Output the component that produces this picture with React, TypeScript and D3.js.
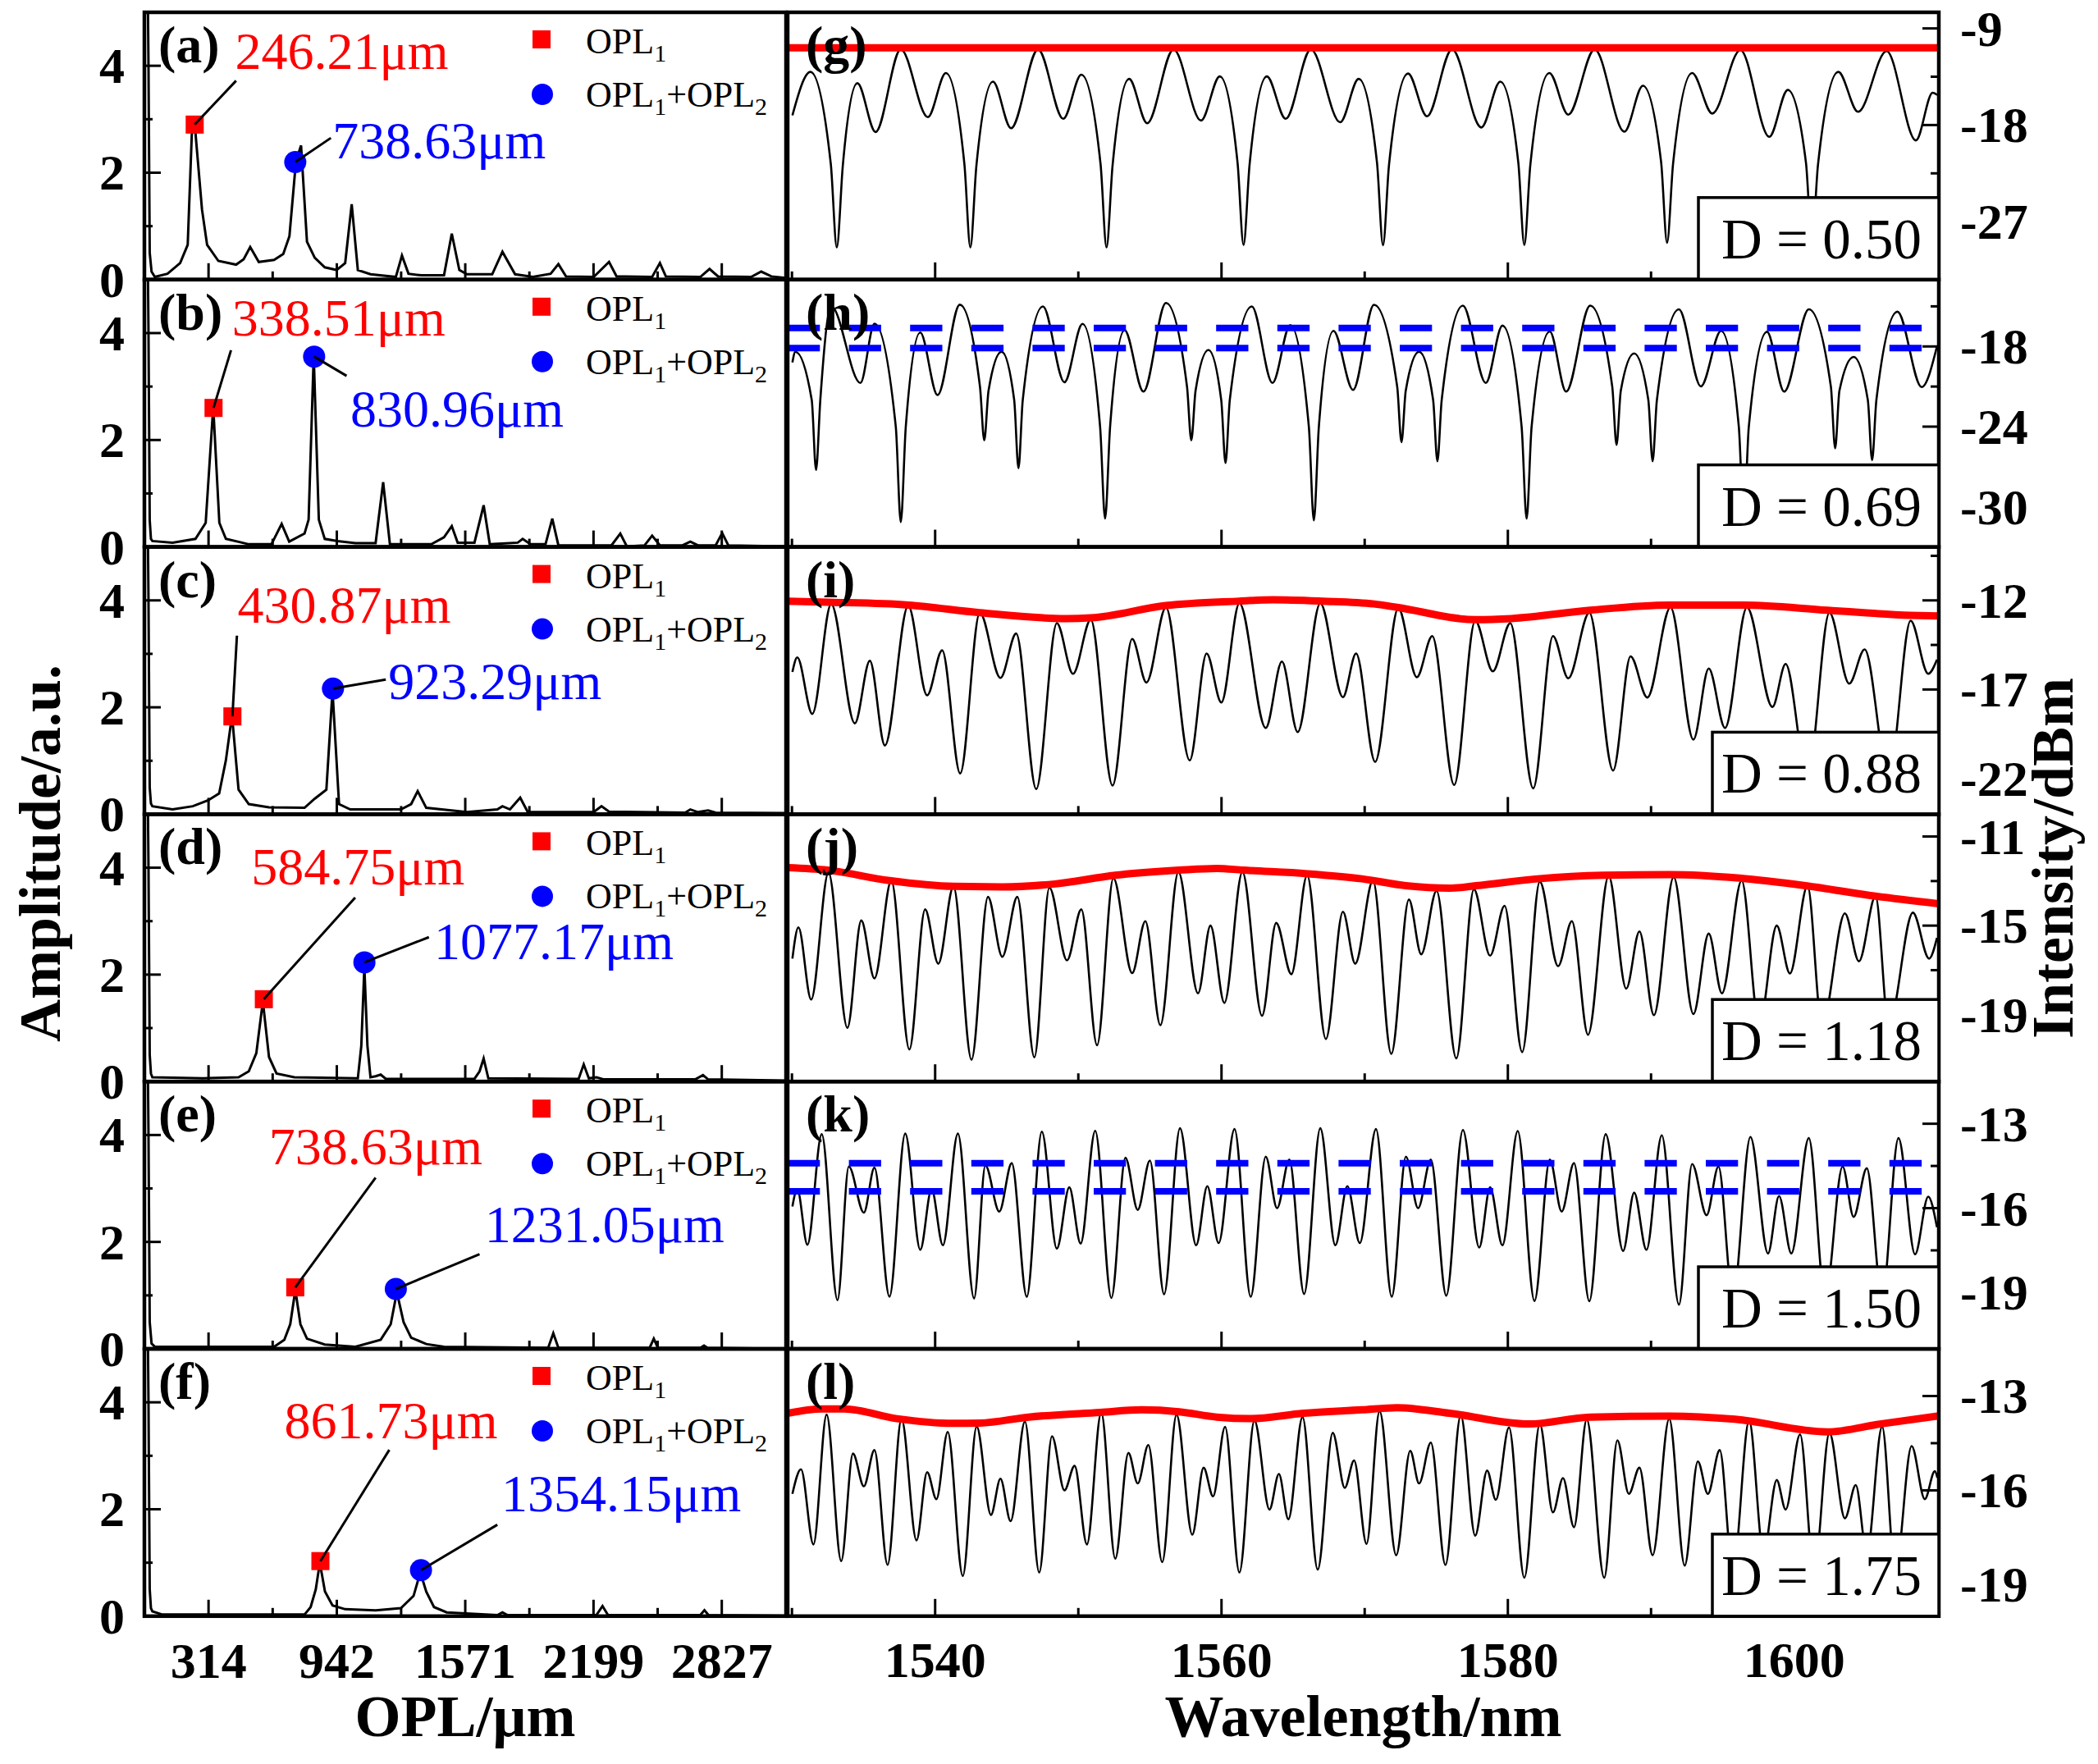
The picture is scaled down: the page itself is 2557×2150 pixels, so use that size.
import React from 'react';
import * as d3 from 'd3';

type Pt = [number, number];

// ---------- left column: OPL spectra (a)-(f) ----------
const leftTags = ['(a)', '(b)', '(c)', '(d)', '(e)', '(f)'];
const opl1Peaks = [246.21, 338.51, 430.87, 584.75, 738.63, 861.73];
const opl1Heights = [2.9, 2.6, 1.83, 1.54, 1.15, 1.03];
const opl12Peaks = [738.63, 830.96, 923.29, 1077.17, 1231.05, 1354.15];
const opl12Heights = [2.2, 3.56, 2.35, 2.23, 1.12, 0.86];
const oplTicks = ['314', '942', '1571', '2199', '2827'];
const oplMinor = [628, 1257, 1885, 2513];
const ampMajor = [0, 2, 4];
const ampMinor = [1, 3];

const specA: Pt[] = [[0, 12], [20, 4], [26, 0.5], [35, 0.15], [51, 0.05], [113, 0.11], [175, 0.31], [212, 0.65], [232, 2.71], [245, 2.97], [282, 1.31], [307, 0.65], [362, 0.35], [449, 0.28], [486, 0.38], [518, 0.61], [560, 0.33], [635, 0.37], [680, 0.48], [710, 0.81], [742, 2.21], [767, 2.51], [796, 0.71], [834, 0.41], [883, 0.23], [941, 0.18], [983, 0.31], [1015, 1.41], [1045, 0.18], [1107, 0.1], [1231, 0.05], [1261, 0.45], [1293, 0.11], [1356, 0.08], [1467, 0.08], [1505, 0.86], [1542, 0.18], [1579, 0.1], [1703, 0.1], [1753, 0.52], [1815, 0.1], [1902, 0.05], [1989, 0.11], [2027, 0.29], [2064, 0.06], [2200, 0.05], [2275, 0.33], [2312, 0.06], [2486, 0.05], [2524, 0.31], [2553, 0.06], [2722, 0.05], [2767, 0.2], [2809, 0.06], [2971, 0.05], [3020, 0.15], [3070, 0.06], [3140, 0.03]];
const specB: Pt[] = [[0, 12], [20, 4], [26, 0.5], [32, 0.15], [39, 0.11], [138, 0.08], [250, 0.15], [300, 0.45], [337, 2.62], [367, 0.45], [399, 0.15], [511, 0.05], [622, 0.05], [672, 0.43], [709, 0.1], [784, 0.25], [804, 0.51], [829, 3.58], [854, 0.51], [883, 0.15], [946, 0.11], [1033, 0.07], [1132, 0.07], [1169, 1.21], [1202, 0.05], [1405, 0.05], [1467, 0.18], [1505, 0.39], [1534, 0.08], [1616, 0.08], [1661, 0.78], [1691, 0.05], [1828, 0.08], [1852, 0.15], [1890, 0.05], [1964, 0.05], [1997, 0.53], [2027, 0.03], [2287, 0.03], [2330, 0.25], [2362, 0.01], [2449, 0.03], [2486, 0.21], [2524, 0.03], [2635, 0.03], [2673, 0.1], [2710, 0.03], [2797, 0.03], [2829, 0.26], [2859, 0.03], [3140, 0.01]];
const specC: Pt[] = [[0, 12], [20, 4], [26, 0.5], [32, 0.2], [39, 0.15], [138, 0.09], [237, 0.15], [312, 0.26], [366, 0.39], [399, 1.01], [429, 1.85], [461, 0.46], [511, 0.19], [610, 0.13], [784, 0.12], [834, 0.29], [891, 0.46], [921, 2.31], [953, 0.19], [1008, 0.09], [1256, 0.09], [1306, 0.19], [1338, 0.43], [1380, 0.12], [1579, 0.04], [1728, 0.09], [1753, 0.15], [1790, 0.09], [1840, 0.31], [1877, 0.04], [2200, 0.04], [2238, 0.15], [2275, 0.05], [2648, 0.03], [2673, 0.09], [2710, 0.04], [2760, 0.07], [2797, 0.03], [3140, 0.02]];
const specD: Pt[] = [[0, 12], [20, 4], [26, 0.5], [32, 0.15], [39, 0.08], [287, 0.06], [461, 0.08], [511, 0.19], [548, 0.53], [580, 1.5], [610, 0.46], [647, 0.15], [734, 0.08], [1045, 0.06], [1062, 0.67], [1077, 2.14], [1092, 0.67], [1107, 0.08], [1132, 0.1], [1157, 0.13], [1182, 0.05], [1616, 0.05], [1641, 0.19], [1661, 0.43], [1684, 0.06], [2126, 0.05], [2151, 0.32], [2176, 0.06], [2213, 0.08], [2250, 0.04], [2697, 0.04], [2735, 0.12], [2760, 0.04], [3140, 0.02]];
const specE: Pt[] = [[0, 12], [20, 4], [26, 0.5], [35, 0.1], [51, 0.04], [635, 0.04], [685, 0.17], [714, 0.46], [739, 1.1], [764, 0.46], [796, 0.19], [883, 0.08], [1033, 0.04], [1157, 0.17], [1206, 0.46], [1236, 1.06], [1269, 0.5], [1306, 0.21], [1380, 0.09], [1467, 0.04], [1977, 0.02], [2002, 0.29], [2027, 0.02], [2474, 0.02], [2494, 0.19], [2514, 0.02], [2722, 0.02], [2740, 0.06], [2757, 0.02], [3140, 0]];
const specF: Pt[] = [[0, 12], [20, 4], [26, 0.5], [32, 0.15], [39, 0.09], [88, 0.03], [784, 0.03], [814, 0.17], [839, 0.5], [859, 1.0], [884, 0.46], [921, 0.2], [983, 0.13], [1132, 0.11], [1256, 0.15], [1318, 0.38], [1351, 0.82], [1380, 0.46], [1418, 0.17], [1480, 0.07], [1728, 0.02], [1753, 0.07], [1778, 0.02], [2213, 0.02], [2243, 0.19], [2270, 0.02], [2722, 0.02], [2742, 0.11], [2762, 0.02], [3140, 0.01]];
const leftSpectra = [specA, specB, specC, specD, specE, specF];

// ---------- right column: transmission spectra (g)-(l) ----------
const rightTags = ['(g)', '(h)', '(i)', '(j)', '(k)', '(l)'];
const dLabels = ['D = 0.50', 'D = 0.69', 'D = 0.88', 'D = 1.18', 'D = 1.50', 'D = 1.75'];
const wlTicks = ['1540', '1560', '1580', '1600'];
const wlMinor = [1530, 1550, 1570, 1590, 1610];
const dbMajor = [[-9, -18, -27], [-18, -24, -30], [-12, -17, -22], [-11, -15, -19], [-13, -16, -19], [-13, -16, -19]];
const dbMinor = [[-13.5, -22.5, -31.5], [-15, -21, -27, -33], [-9.5, -14.5, -19.5], [-13, -17, -21], [-14.5, -17.5, -20.5], [-14.5, -17.5]];
const dbDomains: Pt[] = [[-32.4, -7.5], [-33, -13], [-24, -9], [-22, -10], [-21, -11.5], [-20, -11.5]];

const specG: Pt[] = [[1530.03, -17.1], [1531.29, -13.05], [1532.71, -21.6], [1533.13, -29.4], [1533.55, -21.8], [1534.57, -14.1], [1535.84, -18.65], [1537.6, -10.95], [1539.49, -17.26], [1540.75, -13.15], [1542.04, -21.6], [1542.46, -29.4], [1542.88, -21.8], [1544.04, -13.96], [1545.3, -18.3], [1547.19, -10.95], [1548.95, -17.42], [1550.21, -13.31], [1551.55, -21.6], [1551.97, -29.4], [1552.39, -21.8], [1553.55, -13.7], [1554.81, -17.84], [1556.65, -10.95], [1558.57, -17.58], [1559.88, -13.47], [1561.12, -21.5], [1561.54, -29.17], [1561.96, -21.7], [1563.17, -13.47], [1564.48, -17.42], [1566.24, -10.95], [1568.29, -17.74], [1569.58, -13.7], [1570.86, -21.5], [1571.28, -29.2], [1571.7, -21.7], [1573.03, -13.2], [1574.35, -17.19], [1576.1, -10.95], [1578.15, -18.23], [1579.47, -13.96], [1580.73, -21.5], [1581.15, -29.17], [1581.57, -21.7], [1582.9, -13.15], [1584.22, -17.03], [1586.06, -10.95], [1588.14, -18.62], [1589.43, -14.34], [1590.7, -21.4], [1591.12, -28.97], [1591.54, -21.6], [1592.87, -13.15], [1594.28, -16.93], [1596.24, -11.01], [1598.26, -19.1], [1599.55, -14.73], [1600.82, -21.5], [1601.24, -29], [1601.66, -21.7], [1603.08, -13.05], [1604.46, -16.77], [1606.45, -11.11], [1608.5, -19.43], [1609.67, -14.99], [1610.0, -15.2]];
const specH: Pt[] = [[1530.03, -19.2], [1530.24, -18.4], [1531.38, -22], [1531.68, -27.24], [1531.98, -22], [1532.74, -15.0], [1534.78, -20.73], [1535.76, -16.3], [1537.25, -24], [1537.6, -31.14], [1537.95, -24], [1538.96, -16.96], [1540.17, -21.64], [1541.72, -14.88], [1543.13, -21], [1543.43, -25.03], [1543.73, -21.3], [1544.64, -18.39], [1545.52, -22], [1545.82, -27.11], [1546.12, -22], [1547.53, -15.01], [1549.03, -20.68], [1550.29, -16.31], [1551.52, -24], [1551.87, -30.88], [1552.22, -24], [1553.23, -16.78], [1554.55, -21.38], [1556.12, -14.75], [1557.59, -21], [1557.89, -25.03], [1558.19, -21.3], [1559.09, -18.26], [1559.98, -22], [1560.28, -26.72], [1560.58, -22], [1562.12, -15.01], [1563.56, -20.73], [1564.8, -16.4], [1566.1, -24], [1566.45, -31.01], [1566.8, -24], [1567.82, -16.83], [1569.19, -21.25], [1570.65, -14.88], [1572.27, -21], [1572.57, -25.16], [1572.87, -21.3], [1573.8, -18.39], [1574.78, -22], [1575.08, -26.59], [1575.38, -22], [1576.86, -14.95], [1578.46, -20.73], [1579.62, -16.44], [1580.96, -24], [1581.31, -30.88], [1581.66, -24], [1582.93, -16.88], [1584.07, -21.38], [1585.75, -14.95], [1587.29, -21], [1587.59, -25.36], [1587.89, -21.3], [1588.82, -18.52], [1589.81, -22], [1590.11, -26.59], [1590.41, -22], [1591.95, -15.22], [1593.48, -20.99], [1594.89, -16.83], [1596.13, -24], [1596.48, -31], [1596.83, -24], [1598.1, -16.9], [1599.3, -21.38], [1601.02, -15.22], [1602.56, -21], [1602.86, -25.62], [1603.16, -21.3], [1604.15, -18.78], [1605.14, -22], [1605.44, -26.51], [1605.74, -22], [1607.21, -15.4], [1608.9, -21.04], [1609.97, -18.0]];
const specI: Pt[] = [[1530.03, -16.02], [1530.37, -15.2], [1531.42, -18.37], [1532.74, -12.2], [1534.39, -18.9], [1535.44, -15.39], [1536.49, -20.14], [1538.12, -12.3], [1539.44, -17.33], [1540.49, -14.8], [1541.75, -21.71], [1543.12, -12.69], [1544.56, -16.35], [1545.66, -13.86], [1547.06, -22.59], [1548.5, -13.28], [1549.63, -16.12], [1550.87, -13.08], [1552.39, -22.39], [1553.76, -14.16], [1554.76, -16.61], [1556.12, -12.39], [1557.78, -20.98], [1558.96, -14.98], [1559.99, -17.73], [1561.25, -12.16], [1563.09, -19.16], [1564.22, -15.43], [1565.32, -19.39], [1566.9, -12.16], [1568.48, -17.43], [1569.4, -14.98], [1570.73, -21.06], [1572.35, -12.43], [1573.64, -16.31], [1574.72, -14.0], [1576.25, -22.36], [1577.72, -13.14], [1578.95, -15.98], [1580.17, -13.28], [1581.77, -22.55], [1583.15, -14.0], [1584.22, -16.37], [1585.69, -12.69], [1587.35, -21.55], [1588.57, -15.14], [1589.74, -17.45], [1591.36, -12.39], [1592.96, -19.81], [1594.03, -15.82], [1595.17, -19.16], [1596.7, -12.39], [1598.48, -17.98], [1599.4, -15.57], [1600.93, -22], [1602.46, -12.69], [1603.84, -16.67], [1604.92, -14.75], [1606.6, -22], [1608.13, -13.14], [1609.36, -16.12], [1609.97, -15.33]];
const specJ: Pt[] = [[1530.03, -16.48], [1530.45, -15.08], [1531.34, -18.32], [1532.55, -12.62], [1533.87, -19.59], [1534.84, -14.77], [1535.76, -17.37], [1536.94, -12.98], [1538.2, -20.56], [1539.3, -14.27], [1540.22, -16.71], [1541.28, -13.24], [1542.54, -21.02], [1543.69, -13.71], [1544.69, -16.4], [1545.74, -13.71], [1546.93, -20.91], [1547.98, -13.29], [1549.21, -16.56], [1550.21, -14.27], [1551.31, -20.37], [1552.45, -12.87], [1553.76, -17.13], [1554.68, -14.8], [1555.73, -19.47], [1556.99, -12.59], [1558.36, -18.04], [1559.23, -15.0], [1560.2, -18.47], [1561.46, -12.59], [1562.83, -19.05], [1563.82, -14.88], [1564.88, -17.18], [1565.98, -12.74], [1567.29, -20.09], [1568.48, -14.38], [1569.34, -16.71], [1570.58, -12.98], [1571.86, -20.76], [1573.09, -13.83], [1573.95, -16.29], [1575.02, -13.44], [1576.4, -20.96], [1577.63, -13.37], [1578.76, -16.35], [1579.77, -14.11], [1581.0, -20.68], [1582.23, -13.03], [1583.51, -16.82], [1584.47, -14.8], [1585.6, -19.9], [1587.04, -12.77], [1588.27, -17.83], [1589.19, -15.26], [1590.2, -19.02], [1591.58, -12.82], [1592.96, -18.97], [1594.03, -15.36], [1594.95, -18.04], [1596.33, -12.98], [1597.56, -19.5], [1598.78, -15.0], [1599.7, -17.15], [1600.93, -13.21], [1601.94, -19.5], [1603.54, -14.45], [1604.52, -16.6], [1605.68, -13.68], [1606.6, -19.5], [1608.29, -14.42], [1609.42, -16.48], [1609.97, -15.55]];
const specK: Pt[] = [[1530.03, -15.94], [1530.37, -15.32], [1531.08, -17.3], [1532.08, -13.37], [1533.18, -19.27], [1533.97, -14.52], [1535.02, -16.16], [1535.76, -14.56], [1536.81, -19.15], [1537.91, -13.35], [1538.96, -17.48], [1539.75, -15.32], [1540.54, -17.32], [1541.59, -13.35], [1542.72, -19.21], [1543.51, -14.48], [1544.48, -16.12], [1545.35, -14.4], [1546.4, -19.15], [1547.45, -13.28], [1548.5, -17.44], [1549.37, -15.26], [1550.16, -17.26], [1551.18, -13.25], [1552.31, -19.19], [1553.29, -14.21], [1554.15, -16.06], [1555.0, -14.31], [1555.99, -19.06], [1557.1, -13.16], [1558.23, -17.32], [1559.01, -15.22], [1559.8, -17.24], [1560.91, -13.19], [1562.04, -19.15], [1563.09, -14.17], [1563.88, -16.0], [1564.74, -14.27], [1565.77, -19.05], [1566.9, -13.16], [1567.95, -17.32], [1568.79, -15.22], [1569.66, -17.24], [1570.79, -13.19], [1571.89, -19.15], [1572.88, -14.17], [1573.73, -16.0], [1574.62, -14.27], [1575.7, -19.11], [1576.86, -13.22], [1578.0, -17.4], [1578.76, -15.26], [1579.62, -17.32], [1580.69, -13.26], [1581.86, -19.3], [1582.93, -14.27], [1583.76, -16.12], [1584.62, -14.4], [1585.69, -19.31], [1586.83, -13.37], [1588.05, -17.52], [1588.82, -15.45], [1589.68, -17.48], [1590.75, -13.41], [1591.95, -19.43], [1592.87, -14.43], [1593.88, -16.25], [1594.71, -14.52], [1595.72, -19.2], [1596.94, -13.47], [1598.17, -17.61], [1598.94, -15.57], [1599.8, -17.61], [1601.02, -13.51], [1602.16, -19.2], [1603.38, -14.52], [1604.15, -16.31], [1605.07, -14.58], [1606.14, -19.2], [1607.28, -13.51], [1608.44, -17.64], [1609.36, -15.59], [1609.97, -16.68]];
const specL: Pt[] = [[1530.03, -16.11], [1530.63, -15.33], [1531.5, -17.72], [1532.42, -13.59], [1533.44, -18.25], [1534.26, -14.83], [1535.02, -15.87], [1535.76, -14.72], [1536.68, -18.37], [1537.65, -13.72], [1538.7, -17.59], [1539.44, -15.42], [1540.09, -16.28], [1540.88, -14.14], [1541.93, -18.72], [1542.9, -13.97], [1543.9, -16.78], [1544.56, -15.63], [1545.27, -16.98], [1546.27, -13.81], [1547.27, -18.61], [1548.16, -14.28], [1549.03, -16.0], [1549.74, -15.22], [1550.6, -17.72], [1551.6, -13.52], [1552.58, -18.17], [1553.5, -14.81], [1554.15, -15.78], [1554.89, -14.56], [1555.86, -18.28], [1556.86, -13.59], [1557.96, -17.41], [1558.75, -15.28], [1559.41, -16.19], [1560.25, -13.98], [1561.25, -18.61], [1562.3, -13.78], [1563.35, -16.61], [1564.01, -15.48], [1564.67, -16.92], [1565.66, -13.67], [1566.72, -18.52], [1567.77, -14.17], [1568.61, -15.92], [1569.26, -15.05], [1570.13, -17.7], [1571.04, -13.48], [1572.2, -18.06], [1573.18, -14.74], [1573.8, -15.78], [1574.62, -14.48], [1575.64, -18.37], [1576.71, -13.61], [1577.72, -17.44], [1578.55, -15.37], [1579.16, -16.3], [1580.08, -14.0], [1581.15, -18.78], [1582.23, -13.89], [1583.15, -16.7], [1583.85, -15.61], [1584.62, -17.17], [1585.51, -13.74], [1586.73, -18.78], [1587.65, -14.41], [1588.45, -16.11], [1589.19, -15.28], [1590.11, -18.06], [1591.27, -13.72], [1592.35, -18.39], [1593.27, -15.08], [1593.97, -16.11], [1594.8, -14.72], [1595.72, -18.6], [1596.85, -13.78], [1597.86, -18.0], [1598.78, -15.67], [1599.4, -16.61], [1600.41, -14.22], [1601.39, -18.6], [1602.46, -14.17], [1603.54, -16.89], [1604.3, -15.83], [1605.07, -18.0], [1606.14, -13.97], [1607.06, -18.6], [1608.2, -14.59], [1609.12, -16.28], [1609.82, -15.39], [1610.0, -15.6]];
const rightSpectra = [specG, specH, specI, specJ, specK, specL];

// upper envelopes (red) and flat/dashed reference levels
const envI: Pt[] = [[1529.7, -12.04], [1532.5, -12.1], [1538.12, -12.26], [1543.12, -12.69], [1549.16, -13.02], [1550.87, -12.98], [1556.12, -12.29], [1561.25, -12.04], [1563.6, -11.96], [1567.03, -12.04], [1570.66, -12.2], [1572.26, -12.39], [1577.78, -13.08], [1580.23, -13.02], [1585.75, -12.55], [1591.27, -12.26], [1596.48, -12.26], [1602.31, -12.55], [1608.13, -12.84], [1610.1, -12.88]];
const envJ: Pt[] = [[1529.7, -12.4], [1532.47, -12.51], [1536.81, -12.98], [1541.28, -13.24], [1544.69, -13.26], [1548.37, -13.13], [1552.58, -12.74], [1557.04, -12.51], [1559.67, -12.43], [1561.51, -12.51], [1565.98, -12.67], [1569.81, -12.9], [1572.88, -13.21], [1575.94, -13.32], [1577.78, -13.21], [1582.07, -12.9], [1586.67, -12.74], [1591.27, -12.71], [1596.18, -12.87], [1600.78, -13.21], [1605.68, -13.68], [1610.1, -14.02]];
const envL: Pt[] = [[1529.7, -13.55], [1532.08, -13.41], [1533.66, -13.41], [1537.33, -13.72], [1541.28, -13.87], [1543.12, -13.86], [1546.53, -13.67], [1551.53, -13.52], [1554.42, -13.44], [1557.04, -13.5], [1559.67, -13.67], [1562.04, -13.72], [1565.72, -13.55], [1569.81, -13.44], [1572.26, -13.37], [1575.94, -13.55], [1581.46, -13.89], [1585.75, -13.67], [1591.27, -13.64], [1595.87, -13.74], [1602.31, -14.14], [1605.99, -13.89], [1610.1, -13.63]];
const flatG = -10.8;
const dashH = [-16.62, -18.13];
const dashK = [-14.4, -15.4];

// ---------- layout ----------
const W = 2557, H = 2150;
const TOP = 15, PH = 325.8;
const LX0 = 176, LX1 = 958, RX0 = 960, RX1 = 2363;
const FONT = "'Liberation Serif', 'Times New Roman', Times, serif";

// label anchors for the peak annotations, in data units of each panel
const noteSpots = [
  { redEnd: [449, 3.72], redTxt: [444, 3.94], blueEnd: [913, 2.65], blueTxt: [921, 2.27] },
  { redEnd: [424, 3.68], redTxt: [429, 3.95], blueEnd: [990, 3.2], blueTxt: [1008, 2.25] },
  { redEnd: [453, 3.34], redTxt: [456, 3.58], blueEnd: [1182, 2.52], blueTxt: [1194, 2.16] },
  { redEnd: [1032, 3.44], redTxt: [523, 3.68], blueEnd: [1393, 2.7], blueTxt: [1418, 2.29] },
  { redEnd: [1132, 3.2], redTxt: [610, 3.45], blueEnd: [1641, 1.77], blueTxt: [1666, 2.0] },
  { redEnd: [1199, 3.11], redTxt: [685, 3.33], blueEnd: [1728, 1.71], blueTxt: [1748, 1.96] },
];
const boxLeft = [2070, 2070, 2087, 2087, 2070, 2087];

const xOpl = d3.scaleLinear().domain([0, 1000 * Math.PI]).range([LX0, LX1]);
const xWl = d3.scaleLinear().domain([1529.7, 1610.1]).range([RX0, RX1]);

const LeftPanel = ({ i }: { i: number }) => {
  const top = TOP + i * PH;
  const bot = top + PH;
  const y = d3.scaleLinear().domain([0, 5]).range([bot, top]);
  const line = d3.line<Pt>().x(d => xOpl(d[0])).y(d => y(d[1]));
  const note = noteSpots[i];
  const rx = xOpl(opl1Peaks[i]), ry = y(opl1Heights[i]);
  const bx = xOpl(opl12Peaks[i]), by = y(opl12Heights[i]);
  const clipId = `clipL${i}`;
  return (
    <g>
      <clipPath id={clipId}><rect x={LX0} y={top} width={LX1 - LX0} height={PH} /></clipPath>
      <path d={line(leftSpectra[i]) || ''} fill="none" stroke="#000" strokeWidth={3} clipPath={`url(#${clipId})`} />
      <rect x={rx - 11} y={ry - 11} width={22} height={22} fill="#ff0000" />
      <circle cx={bx} cy={by} r={13.5} fill="#0000ff" />
      <line x1={rx} y1={ry} x2={xOpl(note.redEnd[0])} y2={y(note.redEnd[1])} stroke="#000" strokeWidth={3} />
      <line x1={bx} y1={by} x2={xOpl(note.blueEnd[0])} y2={y(note.blueEnd[1])} stroke="#000" strokeWidth={3} />
      <text x={xOpl(note.redTxt[0])} y={y(note.redTxt[1])} fill="#ff0000" fontSize={64} fontFamily={FONT}>{`${opl1Peaks[i].toFixed(2)}μm`}</text>
      <text x={xOpl(note.blueTxt[0])} y={y(note.blueTxt[1])} fill="#0000ff" fontSize={64} fontFamily={FONT}>{`${opl12Peaks[i].toFixed(2)}μm`}</text>
      {/* legend */}
      <rect x={649} y={top + 22} width={22} height={22} fill="#ff0000" />
      <circle cx={661} cy={top + 100} r={13} fill="#0000ff" />
      <text x={714} y={top + 50} fontSize={44} fontFamily={FONT}>OPL<tspan fontSize={30} dy={10}>1</tspan></text>
      <text x={714} y={top + 115} fontSize={44} fontFamily={FONT}>
        OPL<tspan fontSize={30} dy={10}>1</tspan><tspan dy={-10}>+OPL</tspan><tspan fontSize={30} dy={10}>2</tspan>
      </text>
      <text x={193} y={top + 61} fontSize={64} fontWeight="bold" fontFamily={FONT}>{leftTags[i]}</text>
      <rect x={LX0} y={top} width={LX1 - LX0} height={PH} fill="none" stroke="#000" strokeWidth={4.5} />
      {ampMajor.map(v => (
        <g key={`am${v}`}>
          <line x1={LX0} x2={LX0 + 20} y1={y(v)} y2={y(v)} stroke="#000" strokeWidth={3} />
          <text x={152} y={y(v)} textAnchor="end" dominantBaseline="central" fontSize={62} fontWeight="bold" fontFamily={FONT}>{v}</text>
        </g>
      ))}
      {ampMinor.map(v => <line key={`an${v}`} x1={LX0} x2={LX0 + 10} y1={y(v)} y2={y(v)} stroke="#000" strokeWidth={3} />)}
      {oplTicks.map(t => <line key={`om${t}`} x1={xOpl(+t)} x2={xOpl(+t)} y1={bot} y2={bot - 20} stroke="#000" strokeWidth={3} />)}
      {oplMinor.map(t => <line key={`on${t}`} x1={xOpl(t)} x2={xOpl(t)} y1={bot} y2={bot - 10} stroke="#000" strokeWidth={3} />)}
    </g>
  );
};

const RightPanel = ({ i }: { i: number }) => {
  const top = TOP + i * PH;
  const bot = top + PH;
  const y = d3.scaleLinear().domain(dbDomains[i]).range([bot, top]);
  const line = d3.line<Pt>().x(d => xWl(d[0])).y(d => y(d[1])).curve(d3.curveMonotoneX);
  const clipId = `clipR${i}`;
  const env = i === 2 ? envI : i === 3 ? envJ : i === 5 ? envL : null;
  const dashes = i === 1 ? dashH : i === 4 ? dashK : null;
  return (
    <g>
      <clipPath id={clipId}><rect x={RX0} y={top} width={RX1 - RX0} height={PH} /></clipPath>
      <g clipPath={`url(#${clipId})`}>
        <path d={line(rightSpectra[i]) || ''} fill="none" stroke="#000" strokeWidth={2.6} />
        {i === 0 && <line x1={RX0} x2={RX1} y1={y(flatG)} y2={y(flatG)} stroke="#ff0000" strokeWidth={9} />}
        {env && <path d={line(env) || ''} fill="none" stroke="#ff0000" strokeWidth={9} />}
        {dashes && dashes.map(v => (
          <line key={v} x1={RX0} x2={RX1 - 12} y1={y(v)} y2={y(v)} stroke="#0000ff" strokeWidth={8} strokeDasharray="39.3 35.3" />
        ))}
      </g>
      <text x={982} y={top + 61} fontSize={64} fontWeight="bold" fontFamily={FONT}>{rightTags[i]}</text>
      <rect x={RX0} y={top} width={RX1 - RX0} height={PH} fill="none" stroke="#000" strokeWidth={4.5} />
      {dbMajor[i].map(v => (
        <g key={`dm${v}`}>
          <line x1={RX1} x2={RX1 - 20} y1={y(v)} y2={y(v)} stroke="#000" strokeWidth={3} />
          <text x={2389} y={y(v)} dominantBaseline="central" fontSize={62} fontWeight="bold" fontFamily={FONT}>{v}</text>
        </g>
      ))}
      {dbMinor[i].map(v => <line key={`dn${v}`} x1={RX1} x2={RX1 - 10} y1={y(v)} y2={y(v)} stroke="#000" strokeWidth={3} />)}
      {wlTicks.map(t => <line key={`wm${t}`} x1={xWl(+t)} x2={xWl(+t)} y1={bot} y2={bot - 21} stroke="#000" strokeWidth={3} />)}
      {wlMinor.map(t => <line key={`wn${t}`} x1={xWl(t)} x2={xWl(t)} y1={bot} y2={bot - 10} stroke="#000" strokeWidth={3} />)}
      <rect x={boxLeft[i]} y={bot - 100} width={RX1 - boxLeft[i]} height={100} fill="#fff" stroke="#000" strokeWidth={3.5} />
      <text x={2098} y={bot - 26} fontSize={69} fontFamily={FONT}>{dLabels[i]}</text>
    </g>
  );
};

export default function App() {
  const bottom = TOP + 6 * PH;
  return (
    <svg width={W} height={H} viewBox={`0 0 ${W} ${H}`} style={{ position: 'absolute', left: 0, top: 0, background: '#fff' }}>
      <rect x={0} y={0} width={W} height={H} fill="#fff" />
      {leftTags.map((_, i) => <LeftPanel key={`l${i}`} i={i} />)}
      {rightTags.map((_, i) => <RightPanel key={`r${i}`} i={i} />)}
      {oplTicks.map(t => (
        <text key={`ot${t}`} x={xOpl(+t)} y={bottom + 75} textAnchor="middle" fontSize={62} fontWeight="bold" fontFamily={FONT}>{t}</text>
      ))}
      {wlTicks.map(t => (
        <text key={`wt${t}`} x={xWl(+t)} y={bottom + 74} textAnchor="middle" fontSize={62} fontWeight="bold" fontFamily={FONT}>{t}</text>
      ))}
      <text x={(LX0 + LX1) / 2} y={bottom + 146} textAnchor="middle" fontSize={72} fontWeight="bold" fontFamily={FONT}>OPL/μm</text>
      <text x={(RX0 + RX1) / 2} y={bottom + 146} textAnchor="middle" fontSize={72} fontWeight="bold" fontFamily={FONT}>Wavelength/nm</text>
      <text transform="translate(73,1040) rotate(-90)" textAnchor="middle" fontSize={72} fontWeight="bold" fontFamily={FONT}>Amplitude/a.u.</text>
      <text transform="translate(2526,1046) rotate(-90)" textAnchor="middle" fontSize={72} fontWeight="bold" fontFamily={FONT}>Intensity/dBm</text>
    </svg>
  );
}
